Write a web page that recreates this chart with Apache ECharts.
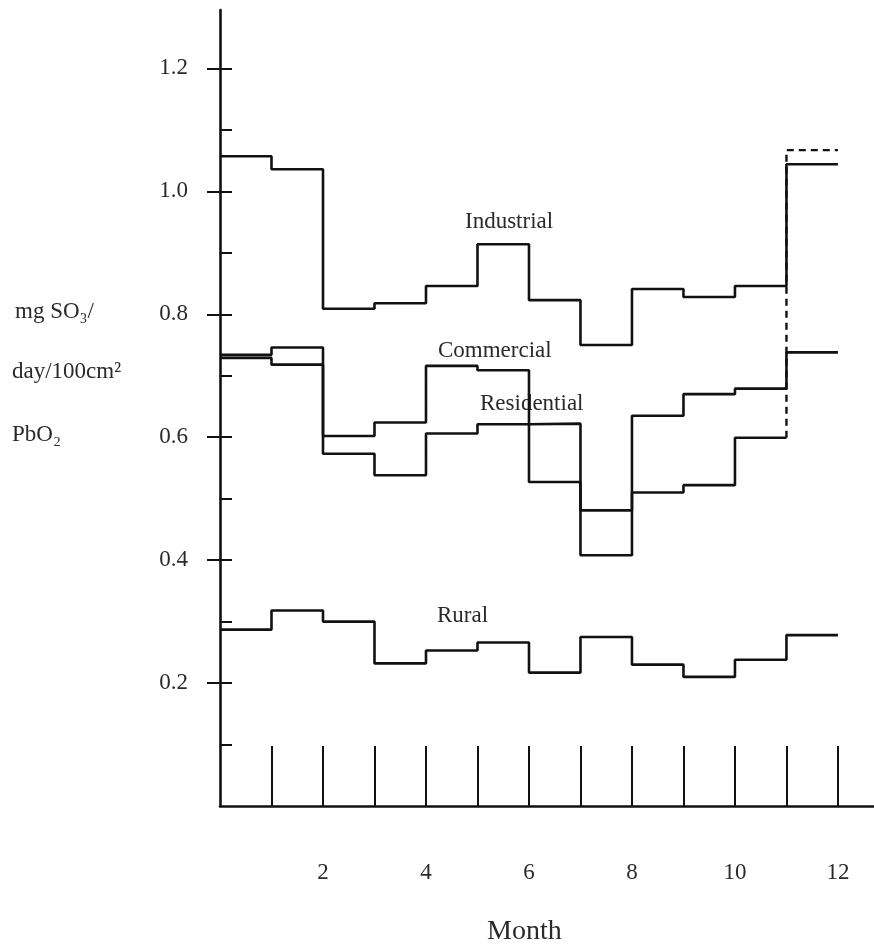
<!DOCTYPE html>
<html>
<head>
<meta charset="utf-8">
<script src="https://cdn.jsdelivr.net/npm/echarts@6/dist/echarts.min.js"></script>
<style>
  html, body { margin: 0; padding: 0; background: #fff; }
  #chart { width: 874px; height: 949px; }
</style>
</head>
<body>
<div id="chart"></div>
<script>
// Monthly values (month 1..12), mg SO3/day/100cm² PbO2
const industrial  = [1.057, 1.036, 0.809, 0.818, 0.846, 0.914, 0.823, 0.750, 0.841, 0.828, 0.846, 1.044];
const commercial  = [0.734, 0.746, 0.602, 0.624, 0.716, 0.709, 0.527, 0.481, 0.635, 0.670, 0.679, 0.738];
const residential = [0.729, 0.718, 0.573, 0.538, 0.606, 0.621, 0.622, 0.408, 0.510, 0.522, 0.599];
const residentialDec = 1.067; // dashed (December)
const rural       = [0.287, 0.318, 0.300, 0.232, 0.253, 0.266, 0.217, 0.275, 0.230, 0.210, 0.238, 0.278];

const monthTicks   = [1, 2, 3, 4, 5, 6, 7, 8, 9, 10, 11, 12];
const monthLabels  = [2, 4, 6, 8, 10, 12];
const yMajorTicks  = [0.2, 0.4, 0.6, 0.8, 1.0, 1.2];
const yMinorTicks  = [0.1, 0.2, 0.3, 0.4, 0.5, 0.6, 0.7, 0.8, 0.9, 1.0, 1.1, 1.2];

const FONT = "'Liberation Serif', 'DejaVu Serif', serif";
const INK = '#111';
const TXT = '#2a2a2a';

function stepData(arr) {
  const d = arr.map((v, i) => [i, v]);
  d.push([arr.length, arr[arr.length - 1]]);
  return d;
}

const lineStyle = { color: INK, width: 2.6 };

const chart = echarts.init(document.getElementById('chart'), null, { renderer: 'canvas' });

chart.setOption({
  backgroundColor: '#fff',
  animation: false,
  grid: { left: 220, right: 0, top: 10, bottom: 143 },
  xAxis: {
    type: 'value',
    min: 0,
    max: 12.7,
    axisLine: { show: true, onZero: false, lineStyle: { color: INK, width: 2.6 } },
    axisTick: { show: true, inside: true, length: 60, customValues: monthTicks, lineStyle: { color: INK, width: 2 } },
    axisLabel: { show: true, customValues: monthLabels, margin: 55, fontFamily: FONT, fontSize: 23, color: TXT },
    splitLine: { show: false }
  },
  yAxis: [
    {
      type: 'value',
      min: 0,
      max: 1.295,
      axisLine: { show: true, lineStyle: { color: INK, width: 2.6 } },
      axisTick: { show: true, inside: false, length: 13, customValues: yMajorTicks, lineStyle: { color: INK, width: 2 } },
      axisLabel: { show: true, customValues: yMajorTicks, margin: 32, fontFamily: FONT, fontSize: 23, color: TXT,
                   formatter: v => v.toFixed(1) },
      splitLine: { show: false }
    },
    {
      type: 'value',
      min: 0,
      max: 1.295,
      position: 'left',
      axisLine: { show: false },
      axisTick: { show: true, inside: true, length: 12, customValues: yMinorTicks, lineStyle: { color: INK, width: 2 } },
      axisLabel: { show: false },
      splitLine: { show: false }
    }
  ],
  series: [
    { name: 'Industrial', type: 'line', step: 'end', data: stepData(industrial), symbol: 'none', lineStyle },
    { name: 'Commercial', type: 'line', step: 'end', data: stepData(commercial), symbol: 'none', lineStyle },
    { name: 'Residential', type: 'line', step: 'end', data: stepData(residential), symbol: 'none', lineStyle },
    { name: 'Residential (Dec)', type: 'line',
      data: [[residential.length, residential[residential.length - 1]], [residential.length, residentialDec], [residential.length + 1, residentialDec]],
      symbol: 'none', lineStyle: { color: INK, width: 2.4, type: [7, 5] } },
    { name: 'Rural', type: 'line', step: 'end', data: stepData(rural), symbol: 'none', lineStyle }
  ],
  graphic: [
    { type: 'text', left: 15, top: 300, style: { text: 'mg SO₃/', font: `23px ${FONT}`, fill: TXT } },
    { type: 'text', left: 12, top: 360, style: { text: 'day/100cm²', font: `23px ${FONT}`, fill: TXT } },
    { type: 'text', left: 12, top: 423, style: { text: 'PbO₂', font: `23px ${FONT}`, fill: TXT } },
    { type: 'text', left: 465, top: 210, style: { text: 'Industrial', font: `23px ${FONT}`, fill: TXT } },
    { type: 'text', left: 438, top: 339, style: { text: 'Commercial', font: `23px ${FONT}`, fill: TXT } },
    { type: 'text', left: 480, top: 392, style: { text: 'Residential', font: `23px ${FONT}`, fill: TXT } },
    { type: 'text', left: 437, top: 604, style: { text: 'Rural', font: `23px ${FONT}`, fill: TXT } },
    { type: 'text', left: 487, top: 918, style: { text: 'Month', font: `28px ${FONT}`, fill: TXT } }
  ]
});
</script>
</body>
</html>
